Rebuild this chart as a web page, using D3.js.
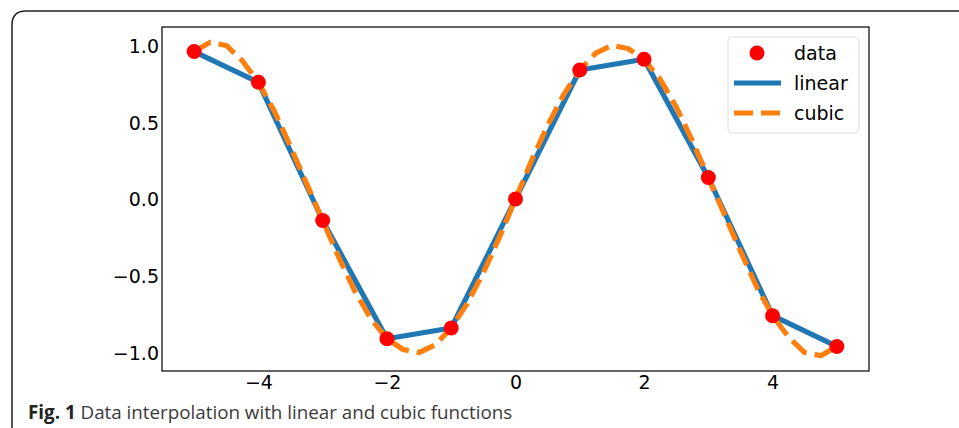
<!DOCTYPE html>
<html>
<head>
<meta charset="utf-8">
<script src="https://cdn.jsdelivr.net/npm/d3@7"></script>
<style>
  html, body { margin: 0; padding: 0; background: #fff; }
  svg { display: block; }
</style>
</head>
<body>
<svg id="chart" width="959" height="428"></svg>
<script>
// sample points
var dataX = [-5, -4, -3, -2, -1, 0, 1, 2, 3, 4, 5];
var dataY = [0.96, 0.76, -0.14, -0.91, -0.84, 0, 0.84, 0.91, 0.14, -0.76, -0.96];

// cubic curve, every 0.25
var cubicX = [-5, -4.75, -4.5, -4.25, -4, -3.75, -3.5, -3.25, -3, -2.75, -2.5, -2.25, -2,
  -1.75, -1.5, -1.25, -1, -0.75, -0.5, -0.25, 0, 0.25, 0.5, 0.75, 1, 1.25, 1.5, 1.75, 2,
  2.25, 2.5, 2.75, 3, 3.25, 3.5, 3.75, 4, 4.25, 4.5, 4.75, 5];
var cubicY = [0.96, 1.02, 1.0, 0.9, 0.76, 0.57, 0.34, 0.1, -0.14, -0.38, -0.6, -0.78, -0.91,
  -0.98, -1.0, -0.95, -0.84, -0.68, -0.48, -0.25, 0, 0.25, 0.48, 0.68, 0.84, 0.95, 1.0, 0.98, 0.91,
  0.78, 0.6, 0.38, 0.14, -0.1, -0.34, -0.57, -0.76, -0.9, -1.0, -1.02, -0.96];

var xTicks = [-4, -2, 0, 2, 4];
var yTicks = [-1.0, -0.5, 0.0, 0.5, 1.0];
var legendItems = ["data", "linear", "cubic"];
var caption = { bold: "Fig. 1", text: " Data interpolation with linear and cubic functions" };

var svg = d3.select("#chart");
var frame = { left: 162, right: 869, top: 27, bottom: 371 };

var x = d3.scaleLinear().domain([-5.5, 5.5]).range([frame.left, frame.right]);
var y = d3.scaleLinear().domain([-1.12, 1.12]).range([frame.bottom, frame.top]);

function fmt(v, digits) {
  return v.toFixed(digits).replace("-", "\u2212");
}

// outer figure box (cut off at right and bottom)
svg.append("path")
  .attr("d", "M12,440 L12,25 Q12,11 26,11 L970,11")
  .attr("fill", "none")
  .attr("stroke", "#222")
  .attr("stroke-width", 1.5);

var g = svg.append("g");

// axes without tick marks
var xAxis = d3.axisBottom(x).tickValues(xTicks).tickSize(0).tickPadding(5)
  .tickFormat(function (d) { return fmt(d, 0); });
var yAxis = d3.axisLeft(y).tickValues(yTicks).tickSize(0).tickPadding(3)
  .tickFormat(function (d) { return fmt(d, 1); });

var gx = g.append("g").attr("transform", "translate(0," + frame.bottom + ")").call(xAxis);
var gy = g.append("g").attr("transform", "translate(" + frame.left + ",0)").call(yAxis);
[gx, gy].forEach(function (a) {
  a.attr("font-family", null).attr("font-size", null);
  a.select(".domain").remove();
  a.selectAll("text")
    .style("font-family", "'DejaVu Sans'")
    .style("font-size", "19px")
    .attr("fill", "#000");
});
gx.selectAll("text").attr("dy", "0.71em");
gy.selectAll("text").attr("dy", "0.36em");

svg.append("clipPath").attr("id", "plotclip").append("rect")
  .attr("x", frame.left).attr("y", frame.top)
  .attr("width", frame.right - frame.left).attr("height", frame.bottom - frame.top);

var plot = g.append("g").attr("clip-path", "url(#plotclip)");

var lineGen = d3.line()
  .x(function (d) { return x(d[0]); })
  .y(function (d) { return y(d[1]); });

var linearPts = dataX.map(function (v, i) { return [v, dataY[i]]; });
var cubicPts = cubicX.map(function (v, i) { return [v, cubicY[i]]; });

plot.append("path")
  .attr("d", lineGen(linearPts))
  .attr("fill", "none")
  .attr("stroke", "#1f77b4")
  .attr("stroke-width", 5.2)
  .attr("stroke-linejoin", "round");

plot.append("path")
  .attr("d", lineGen(cubicPts))
  .attr("fill", "none")
  .attr("stroke", "#ff7f0e")
  .attr("stroke-width", 5.2)
  .attr("stroke-dasharray", "19,8")
  .attr("stroke-linejoin", "round");

plot.selectAll("circle.pt")
  .data(linearPts)
  .enter().append("circle")
  .attr("class", "pt")
  .attr("cx", function (d) { return x(d[0]); })
  .attr("cy", function (d) { return y(d[1]); })
  .attr("r", 7.5)
  .attr("fill", "#ff0000");

// plot frame
g.append("rect")
  .attr("x", frame.left).attr("y", frame.top)
  .attr("width", frame.right - frame.left).attr("height", frame.bottom - frame.top)
  .attr("fill", "none")
  .attr("stroke", "#000")
  .attr("stroke-width", 1.2);

// legend
var leg = g.append("g").attr("transform", "translate(728,37)");
leg.append("rect")
  .attr("width", 131).attr("height", 96)
  .attr("rx", 4)
  .attr("fill", "#fff").attr("fill-opacity", 0.8)
  .attr("stroke", "#e0e0e0");

legendItems.forEach(function (name, i) {
  var cy = 16 + i * 30;
  if (i === 0) {
    leg.append("circle").attr("cx", 29).attr("cy", cy).attr("r", 7.5).attr("fill", "#ff0000");
  } else {
    leg.append("line")
      .attr("x1", 6).attr("x2", 53).attr("y1", cy).attr("y2", cy)
      .attr("stroke", i === 1 ? "#1f77b4" : "#ff7f0e")
      .attr("stroke-width", 5.2)
      .attr("stroke-dasharray", i === 2 ? "19,8" : null);
  }
  leg.append("text")
    .attr("x", 66).attr("y", cy).attr("dy", "0.36em")
    .style("font-family", "'DejaVu Sans'")
    .style("font-size", "19px")
    .text(name);
});

// caption
var cap = svg.append("text")
  .attr("x", 28).attr("y", 419)
  .style("font-family", "'Open Sans'")
  .style("font-size", "18.8px")
  .attr("fill", "#3a3a3a");
cap.append("tspan").attr("font-weight", "bold").attr("fill", "#222").text(caption.bold);
cap.append("tspan").text(caption.text);
</script>
</body>
</html>
